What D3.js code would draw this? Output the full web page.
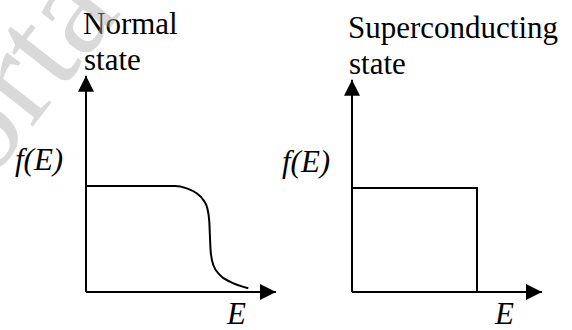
<!DOCTYPE html>
<html>
<head>
<meta charset="utf-8">
<script src="https://cdn.jsdelivr.net/npm/d3@7"></script>
<style>
  body { margin: 0; background: #fff; }
  text { font-family: "Liberation Serif", "Times New Roman", serif; }
</style>
</head>
<body>
<svg id="chart" width="572" height="330"></svg>
<script>
// Fermi-Dirac distribution, normal state
var normalE = [0, 0.89, 1.007, 1.107, 1.173, 1.213, 1.233, 1.24, 1.247, 1.273, 1.34, 1.44, 1.623];
var normalF = [1, 1, 0.978, 0.931, 0.868, 0.79, 0.663, 0.509, 0.38, 0.255, 0.16, 0.097, 0.035];

// superconducting state: step at the gap edge
var superE = [0, 1.25, 1.25];
var superF = [1, 1, 0];

// axis extents in data units
var axisMaxE = 1.9;
var axisMaxF = 2.04;

var titles = [["Normal", "state"], ["Superconducting", "state"]];

var svg = d3.select("#chart");

// watermark sits under the drawing's strokes but tints the text it crosses
var panels = [
  { x0: 86,  yTop: 186, E: normalE, F: normalF, curve: d3.curveMonotoneX,
    title: titles[0], tx: 83, ty: 34, fx: 15, fy: 170, ex: 227, ey: 324 },
  { x0: 352, yTop: 188, E: superE, F: superF, curve: d3.curveLinear,
    title: titles[1], tx: 348, ty: 38, fx: 282, fy: 172, ex: 495, ey: 324 }
];

svg.append("defs").append("marker")
    .attr("id", "arrow")
    .attr("viewBox", "0 0 16 16")
    .attr("refX", 16).attr("refY", 8)
    .attr("markerWidth", 16).attr("markerHeight", 16)
    .attr("markerUnits", "userSpaceOnUse")
    .attr("orient", "auto")
  .append("path")
    .attr("d", "M0,0L16,8L0,16Z")
    .attr("fill", "#000");

panels.forEach(function(p) {
  var x = d3.scaleLinear().domain([0, axisMaxE]).range([p.x0, p.x0 + 190]);
  var y = d3.scaleLinear().domain([0, 1]).range([292, p.yTop]);

  var g = svg.append("g");

  // axes
  g.append("line")
      .attr("x1", x(0)).attr("y1", y(0))
      .attr("x2", x(0)).attr("y2", y(axisMaxF))
      .attr("stroke", "#000").attr("stroke-width", 2)
      .attr("marker-end", "url(#arrow)");
  g.append("line")
      .attr("x1", x(0)).attr("y1", y(0))
      .attr("x2", x(axisMaxE)).attr("y2", y(0))
      .attr("stroke", "#000").attr("stroke-width", 2)
      .attr("marker-end", "url(#arrow)");

  var line = d3.line()
      .x(function(d, i) { return x(p.E[i]); })
      .y(function(d, i) { return y(p.F[i]); })
      .curve(p.curve);

  g.append("path")
      .attr("d", line(p.E))
      .attr("fill", "none")
      .attr("stroke", "#000")
      .attr("stroke-width", 2);

  g.append("text").attr("x", p.tx).attr("y", p.ty)
      .attr("font-size", 31).text(p.title[0]);
  g.append("text").attr("x", p.tx + 1).attr("y", p.ty + 36)
      .attr("font-size", 31).text(p.title[1]);

  g.append("text").attr("x", p.fx).attr("y", p.fy)
      .attr("font-size", 31).attr("font-style", "italic").text("f(E)");
  g.append("text").attr("x", p.ex).attr("y", p.ey)
      .attr("font-size", 31).attr("font-style", "italic").text("E");
});

// faint watermark across the top-left corner
svg.append("text")
    .attr("transform", "translate(-12,184) rotate(-52)")
    .attr("font-family", "Liberation Sans, Arial, sans-serif")
    .attr("font-size", 140)
    .attr("fill", "#aaa")
    .attr("fill-opacity", 0.45)
    .text("orta");
</script>
</body>
</html>
